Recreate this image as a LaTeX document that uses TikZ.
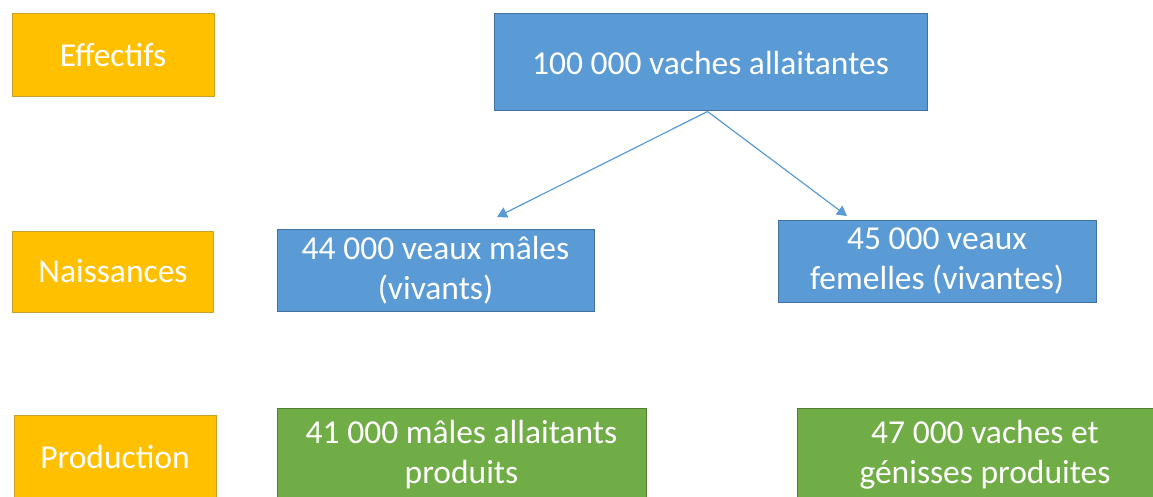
\documentclass[tikz,border=0pt]{standalone}
\usepackage{fontspec}
\setmainfont{Carlito}
\usetikzlibrary{arrows.meta}
\definecolor{orfill}{HTML}{FFC000}
\definecolor{ordraw}{HTML}{C9A227}
\definecolor{blfill}{HTML}{5B9BD5}
\definecolor{bldraw}{HTML}{41719C}
\definecolor{grfill}{HTML}{70AD47}
\definecolor{grdraw}{HTML}{507E32}
\tikzset{
  box/.style={rectangle, inner sep=0pt, line width=1pt, text=white, align=center,
    font=\fontsize{33.5}{40}\selectfont},
  orbox/.style={box, fill=orfill, draw=ordraw},
  blbox/.style={box, fill=blfill, draw=bldraw},
  grbox/.style={box, fill=grfill, draw=grdraw},
  arr/.style={draw=blfill, line width=1.2pt, -{Triangle[width=11pt,length=10pt]}}
}
\begin{document}
\begin{tikzpicture}[x=1pt,y=-1pt]
\useasboundingbox (0,0) rectangle (1153,497);
\clip (0,0) rectangle (1153,497);
\node[orbox, minimum width=202pt, minimum height=83pt] (eff) at (113,55.5) {Effectifs};
\node[orbox, minimum width=201pt, minimum height=81pt] (nai) at (113,271.5) {Naissances};
\node[orbox, minimum width=202pt, minimum height=83pt] (pro) at (115,456.5) {Production};
\node[blbox, minimum width=433pt, minimum height=97pt] (top) at (710.5,62.5) {100 000 vaches allaitantes};
\node[blbox, minimum width=317pt, minimum height=82pt] (vm) at (435.5,270) {44 000 veaux mâles\\(vivants)};
\node[blbox, minimum width=318pt, minimum height=82pt] (vf) at (937,261) {45 000 veaux\\femelles (vivantes)};
\node[grbox, minimum width=369pt, minimum height=94pt] (ma) at (461.5,455) {41 000 mâles allaitants\\produits};
\node[grbox, minimum width=376pt, minimum height=94pt] (vg) at (985,455) {47 000 vaches et\\génisses produites};
\coordinate (tl) at (497,217);
\coordinate (tr) at (847,216);
\draw[arr] ([xshift=-3pt]top.south) -- (tl);
\draw[arr] ([xshift=-3pt]top.south) -- (tr);
\end{tikzpicture}
\end{document}
